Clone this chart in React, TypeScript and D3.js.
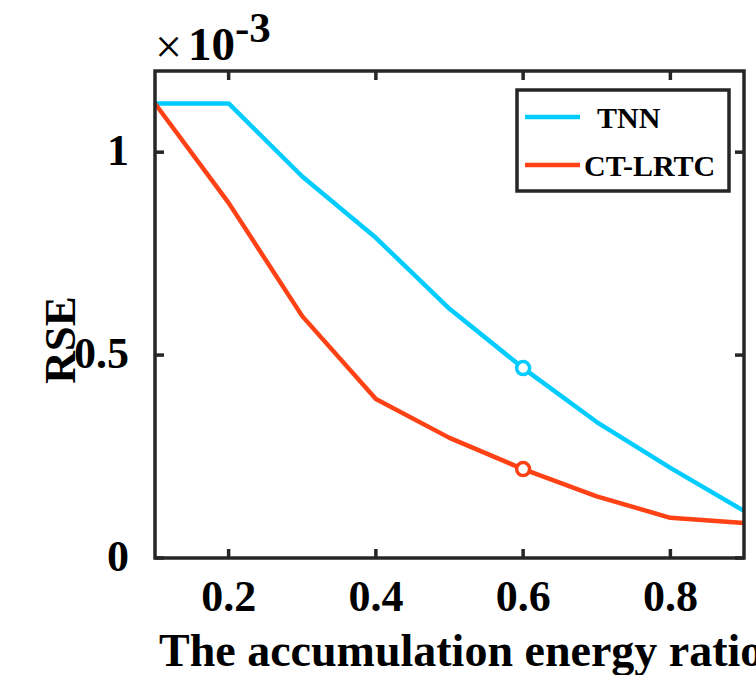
import React from "react";
import * as d3 from "d3";

const xValues = [0.1, 0.2, 0.3, 0.4, 0.5, 0.6, 0.7, 0.8, 0.9];
const tnnValues = [1.12, 1.12, 0.94, 0.789, 0.614, 0.468, 0.335, 0.222, 0.116];
const ctValues = [1.12, 0.875, 0.596, 0.392, 0.296, 0.219, 0.152, 0.099, 0.086];
const markerIndex = 5;
const xTicks = [0.2, 0.4, 0.6, 0.8];
const yTicks = [0, 0.5, 1];
const yTickLabels = ["0", "0.5", "1"];
const seriesNames = ["TNN", "CT-LRTC"];
const seriesColors = ["#00CCFF", "#FF4216"];

const W = 756, H = 675;
const L = 155, R = 744, T = 71, B = 558;
const FONT = "'Liberation Serif', 'Times New Roman', serif";
const AX = "#262626";

export default function App() {
  const x = d3.scaleLinear().domain([0.1, 0.9]).range([L, R]);
  const y = d3.scaleLinear().domain([0, 1.2]).range([B, T]);
  const line = d3.line<number>().x((_, i) => x(xValues[i])).y((d) => y(d));
  const series = [tnnValues, ctValues];
  const tickLen = 9;
  return (
    <svg width={W} height={H} style={{ position: "absolute", left: 0, top: 0, background: "#fff" }}>
      <rect x={0} y={0} width={W} height={H} fill="#fff" />
      {series.map((s, k) => (
        <path key={k} d={line(s) || ""} fill="none" stroke={seriesColors[k]} strokeWidth={4.5} strokeLinejoin="round" />
      ))}
      {series.map((s, k) => (
        <circle key={"m" + k} cx={x(xValues[markerIndex])} cy={y(s[markerIndex])} r={6.5} fill="#fff" stroke={seriesColors[k]} strokeWidth={3.5} />
      ))}
      {/* axes box */}
      <rect x={L} y={T} width={R - L} height={B - T} fill="none" stroke={AX} strokeWidth={3.5} />
      {xTicks.map((t) => (
        <g key={"xt" + t}>
          <line x1={x(t)} x2={x(t)} y1={B} y2={B - tickLen} stroke={AX} strokeWidth={3.5} />
          <line x1={x(t)} x2={x(t)} y1={T} y2={T + tickLen} stroke={AX} strokeWidth={3.5} />
          <text x={x(t)} y={B + 53} textAnchor="middle" fontFamily={FONT} fontWeight="bold" fontSize={44} fill="#000">
            {t.toFixed(1)}
          </text>
        </g>
      ))}
      {yTicks.map((t, i) => (
        <g key={"yt" + t}>
          <line x1={L} x2={L + tickLen} y1={y(t)} y2={y(t)} stroke={AX} strokeWidth={3.5} />
          <line x1={R} x2={R - tickLen} y1={y(t)} y2={y(t)} stroke={AX} strokeWidth={3.5} />
          <text x={129} y={y(t) + 13} textAnchor="end" fontFamily={FONT} fontWeight="bold" fontSize={44} fill="#000">
            {yTickLabels[i]}
          </text>
        </g>
      ))}
      {/* exponent */}
      <text x={155} y={63} fontFamily={FONT} fontSize={48} fill="#000">×</text>
      <text x={188} y={60} fontFamily={FONT} fontWeight="bold" fontSize={47} fill="#000">10</text>
      <text x={235} y={42} fontFamily={FONT} fontWeight="bold" fontSize={43} fill="#000">-3</text>
      {/* axis labels */}
      <text x={159} y={666} fontFamily={FONT} fontWeight="bold" fontSize={46} fill="#000">
        The accumulation energy ratio
      </text>
      <text transform="translate(75,340) rotate(-90)" textAnchor="middle" fontFamily={FONT} fontWeight="bold" fontSize={45} fill="#000">
        RSE
      </text>
      {/* legend */}
      <rect x={517} y={90} width={212} height={101} fill="#fff" stroke={AX} strokeWidth={3.5} />
      {seriesNames.map((n, k) => (
        <g key={"lg" + k}>
          <line x1={525} x2={580} y1={117 + k * 48} y2={117 + k * 48} stroke={seriesColors[k]} strokeWidth={4.5} />
          <text x={k === 0 ? 597 : 584} y={128 + k * 48} fontFamily={FONT} fontWeight="bold" fontSize={30} fill="#000">
            {n}
          </text>
        </g>
      ))}
    </svg>
  );
}
